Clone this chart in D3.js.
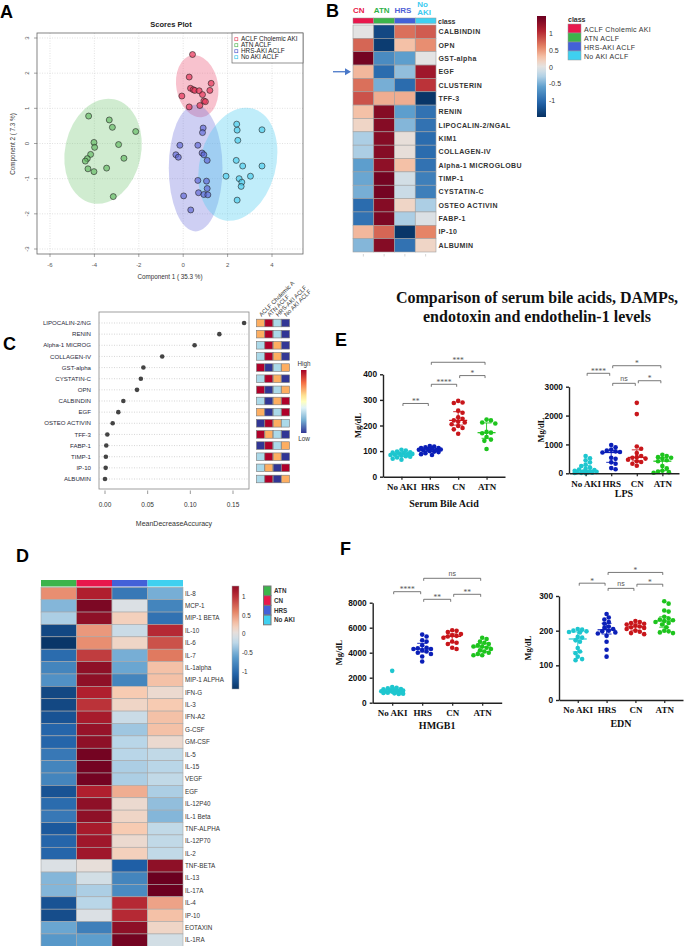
<!DOCTYPE html>
<html>
<head>
<meta charset="utf-8">
<script src="https://cdn.jsdelivr.net/npm/d3@7"></script>
<style>
body { margin: 0; background: #fff; }
svg { display: block; font-family: "Liberation Sans", Arial, sans-serif; }
</style>
</head>
<body>
<svg id="fig" width="685" height="946"></svg>
<script>
// ---------- data ----------
// A: PLS-DA scores (component 1, component 2)
const scoreGroups = ['ACLF Cholemic AKI', 'ATN ACLF', 'HRS-AKI ACLF', 'No AKI ACLF'];
const scoresCholemic = [[0.42,2.53],[0.27,1.89],[-0.06,1.35],[0.33,1.57],[0.45,1.53],[0.52,1.51],[0.72,1.50],[0.87,1.39],[1.20,1.51],[1.26,1.71],[0.93,1.21],[1.00,1.19],[0.75,1.08],[0.27,1.04]];
const scoresATN = [[-4.26,0.78],[-3.33,0.67],[-3.19,0.46],[-2.14,0.34],[-4.02,0.03],[-3.99,-0.11],[-2.91,-0.03],[-4.17,-0.31],[-4.32,-0.43],[-4.41,-0.50],[-2.67,-0.42],[-4.29,-0.72],[-4.02,-0.80],[-3.45,-0.70],[-3.15,-1.51]];
const scoresHRS = [[0.90,0.44],[0.87,0.31],[-0.15,-0.05],[0.66,-0.05],[-0.33,-0.32],[-0.22,-0.39],[0.85,-0.27],[0.93,-0.32],[1.08,-0.48],[0.66,-1.05],[1.05,-1.07],[1.08,-1.28],[0.69,-1.40],[0.93,-1.45],[1.11,-1.46],[0.02,-1.49],[0.34,-1.89]];
const scoresNoAKI = [[2.41,0.55],[2.43,0.38],[3.55,0.39],[2.46,0.09],[2.39,-0.48],[2.68,-0.64],[3.55,-0.64],[1.93,-0.93],[3.03,-0.93],[2.52,-1.00],[2.64,-1.10],[2.61,-1.22],[2.43,-1.61]];
// ellipses: centre x, centre y, half width, half height (data units), tilt in degrees
const ellipseCholemic = [0.63, 1.63, 0.94, 0.89, -10];
const ellipseATN = [-3.61, -0.22, 1.71, 1.51, 12];
const ellipseHRS = [0.56, -0.70, 1.21, 1.80, 0];
const ellipseNoAKI = [2.46, -0.59, 1.71, 1.64, 15];

// B: heatmap of urinary markers
const bCols = ['CN', 'ATN', 'HRS', 'No AKI'];
const bRows = ['CALBINDIN','OPN','GST-alpha','EGF','CLUSTERIN','TFF-3','RENIN','LIPOCALIN-2/NGAL','KIM1','COLLAGEN-IV','Alpha-1 MICROGLOBU','TIMP-1','CYSTATIN-C','OSTEO ACTIVIN','FABP-1','IP-10','ALBUMIN'];
const bValues = [
  [0.0,-1.3,0.7,0.8],[0.75,-1.4,0.3,0.55],[1.45,-0.75,-0.6,0.0],[0.35,-1.0,-0.4,1.2],
  [0.7,-0.5,-1.0,1.0],[0.85,0.4,0.4,-1.45],[0.3,1.35,-0.6,-0.95],[0.15,1.35,-0.45,-0.95],
  [-0.3,1.35,0.05,-1.0],[-0.3,1.35,0.05,-1.0],[-0.6,1.3,0.3,-0.95],[-0.55,1.45,-0.1,-0.85],
  [-0.5,1.45,-0.15,-0.85],[-1.0,1.35,0.15,-0.3],[-0.95,1.4,-0.3,-0.05],[0.35,0.75,-1.45,0.6],
  [-0.45,1.35,-0.95,0.15]
];
const bScaleTicks = [1, 0.5, 0, -0.5, -1];

// C: random forest importance
const cFeatures = ['LIPOCALIN-2/NG','RENIN','Alpha-1 MICROG','COLLAGEN-IV','GST-alpha','CYSTATIN-C','OPN','CALBINDIN','EGF','OSTEO ACTIVIN','TFF-3','FABP-1','TIMP-1','IP-10','ALBUMIN'];
const cAccuracy = [0.163,0.134,0.105,0.067,0.045,0.042,0.0375,0.0215,0.0156,0.009,0.0027,0.0015,0.001,0.0008,0.0];
const cClasses = ['ACLF Cholemic A', 'ATN ACLF', 'HRS-AKI ACLF', 'No AKI ACLF'];
// rank of group mean per feature: 4 = high ... 1 = low
const cRanks = [
  [3,4,2,1],[3,4,2,1],[2,4,3,1],[2,4,3,1],[4,1,2,3],[2,4,3,1],[4,1,2,3],[2,1,3,4],
  [3,1,2,4],[1,4,3,2],[4,3,2,1],[1,4,2,3],[2,4,3,1],[2,3,1,4],[2,4,1,3]
];
const cTicks = [0, 0.05, 0.10, 0.15];

// D: cytokine heatmap
const dCols = ['ATN', 'CN', 'HRS', 'No AKI'];
const dRows = ['IL-8','MCP-1','MIP-1 BETA','IL-10','IL-6','IL-7','IL-1alpha','MIP-1 ALPHA','IFN-G','IL-3','IFN-A2','G-CSF','GM-CSF','IL-5','IL-15','VEGF','EGF','IL-12P40','IL-1 Beta','TNF-ALPHA','IL-12P70','IL-2','TNF-BETA','IL-13','IL-17A','IL-4','IP-10','EOTAXIN','IL-1RA'];
const dValues = [
  [0.55,1.1,-0.9,-0.5],[-0.45,1.4,-0.05,-0.8],[-0.3,1.3,0.2,-0.95],[-1.3,0.5,-0.15,1.05],
  [-1.45,0.55,0.15,0.85],[-1.0,0.95,-0.5,0.65],[-0.8,1.3,-0.55,0.3],[-0.7,1.3,-0.8,0.3],
  [-1.3,1.1,0.25,0.1],[-1.3,1.0,0.15,0.25],[-1.2,1.15,-0.15,0.3],[-1.05,1.25,-0.35,0.3],
  [-1.05,1.3,-0.25,0.1],[-0.9,1.45,-0.25,-0.2],[-0.8,1.45,-0.3,-0.25],[-0.8,1.45,-0.3,-0.2],
  [-1.2,1.1,0.4,-0.3],[-1.0,1.3,0.1,-0.4],[-0.9,1.3,0.15,-0.45],[-1.15,1.15,0.25,-0.2],
  [-1.05,1.2,0.1,-0.2],[-1.05,1.2,0.2,-0.2],[-0.05,0.05,-1.1,1.3],[-0.45,-0.1,-0.8,1.5],
  [-0.45,-0.3,-0.75,1.55],[-1.2,-0.25,1.05,0.45],[-1.25,-0.05,1.05,0.3],[-0.55,-0.85,1.3,0.15],
  [-0.65,-0.6,1.45,-0.1]
];
const dScaleTicks = [1, 0.5, 0, -0.5, -1];

// E / F: group order No AKI, HRS, CN, ATN
const dotGroups = ['No AKI', 'HRS', 'CN', 'ATN'];
const bileAcid = [
  [105,102,98,95,92,90,88,86,85,82,80,78,75,70,66,94,89],
  [120,118,115,112,110,108,106,105,103,100,98,96,92,88,85,112,104],
  [296,290,288,258,250,232,226,220,215,212,205,198,190,185,168],
  [223,220,212,208,175,172,170,155,145,140,108]
];
const lps = [
  [600,520,450,380,300,250,200,160,130,110,90,70,60,50,40,30,20,15,10,5],
  [980,900,820,790,760,740,720,540,500,380,330,180,140],
  [2440,2050,930,850,700,600,560,540,510,470,420,390,330,260],
  [640,600,560,540,500,450,420,250,170,90,60,40,20]
];
const hmgb1 = [
  [2550,1250,1200,1150,1100,1080,1050,1000,980,950,920,900,880,850,820,800,780,750,720,700],
  [5450,5300,5000,4900,4600,4400,4350,4300,4300,4200,4100,4000,3900,3700,3300],
  [5800,5750,5650,5500,5400,5350,5300,5200,4900,4800,4700,4400,4300],
  [5200,5100,4900,4800,4700,4600,4500,4500,4400,4300,4200,4100,4000,3900,3800,3800]
];
const edn = [
  [205,203,200,198,196,195,182,180,172,168,150,140,135,125,118,115],
  [248,238,232,225,220,212,208,205,200,198,195,192,185,168,145,125],
  [228,225,222,220,218,215,212,210,208,205,200,197,193,190],
  [285,278,258,255,240,235,232,230,228,225,222,218,210,200,198,195,193]
];
// significance brackets: from, to, height (value units), label
const bileBrackets = [['No AKI','HRS',286,'**'],['HRS','CN',361,'****'],['CN','ATN',395,'*'],['HRS','ATN',447,'***']];
const lpsBrackets = [['No AKI','HRS',3464,'****'],['HRS','ATN',3727,'*'],['HRS','CN',3117,'ns'],['CN','ATN',3207,'*']];
const hmgbBrackets = [['HRS','ATN',9952,'ns'],['No AKI','HRS',8880,'****'],['HRS','CN',8272,'**'],['CN','ATN',8672,'**']];
const ednBrackets = [['No AKI','HRS',337,'*'],['HRS','ATN',368,'*'],['HRS','CN',322,'ns'],['CN','ATN',334,'*']];

// ---------- setup ----------
const SANS = '"Liberation Sans", Arial, sans-serif';
const SERIF = '"Liberation Serif", "Times New Roman", serif';
const svg = d3.select('#fig');
svg.append('rect').attr('width', 685).attr('height', 946).attr('fill', '#fff');
const defs = svg.append('defs');

const heatColor = d3.scaleLinear()
  .domain([-1.5, -1.1, -0.6, -0.25, 0, 0.25, 0.6, 1.1, 1.5])
  .range(['#06305f', '#1f5fa6', '#5d9ecd', '#b9d6e8', '#e3e3e3', '#f7cbb2', '#e58466', '#b01f2e', '#6b0020'])
  .clamp(true);

function letter(t, x, y) {
  svg.append('text').attr('x', x).attr('y', y).attr('font-size', 18)
    .attr('font-weight', 'bold').attr('font-family', SANS).attr('fill', '#000').text(t);
}

function vGradient(id, colorAt, lo, hi) {
  // vertical ramp, top = hi
  const grad = defs.append('linearGradient').attr('id', id)
    .attr('x1', 0).attr('y1', 0).attr('x2', 0).attr('y2', 1);
  d3.range(0, 1.0001, 0.05).forEach(t => {
    grad.append('stop').attr('offset', t).attr('stop-color', colorAt(hi - t * (hi - lo)));
  });
}

// ---------- A: scores plot ----------
function drawScores() {
  const g = svg.append('g');
  const box = { l: 37, r: 303, t: 33, b: 254 };
  const x = d3.scaleLinear().domain([-6, 4]).range([50, 272]);
  const y = d3.scaleLinear().domain([-3, 3]).range([249, 38]);
  const fills = ['rgba(232,62,96,0.75)', 'rgba(96,186,96,0.65)', 'rgba(92,100,214,0.65)', 'rgba(70,205,238,0.65)'];
  const shades = ['rgba(236,95,125,0.38)', 'rgba(110,195,110,0.32)', 'rgba(110,115,220,0.34)', 'rgba(80,205,240,0.36)'];
  const keyCols = ['#e8506a', '#5cb85c', '#5a62d0', '#45c8ec'];

  g.append('text').attr('x', 171).attr('y', 27).attr('text-anchor', 'middle')
    .attr('font-size', 7.5).attr('font-weight', 'bold').attr('fill', '#222').text('Scores Plot');

  // grid
  g.selectAll('.gx').data(x.ticks(5)).join('line')
    .attr('x1', d => x(d)).attr('x2', d => x(d)).attr('y1', box.t).attr('y2', box.b)
    .attr('stroke', '#cfcfcf').attr('stroke-width', 0.6).attr('stroke-dasharray', '1,1.5');
  g.selectAll('.gy').data(y.ticks(6)).join('line')
    .attr('y1', d => y(d)).attr('y2', d => y(d)).attr('x1', box.l).attr('x2', box.r)
    .attr('stroke', '#cfcfcf').attr('stroke-width', 0.6).attr('stroke-dasharray', '1,1.5');

  defs.append('clipPath').attr('id', 'clipA').append('rect')
    .attr('x', box.l).attr('y', box.t).attr('width', box.r - box.l).attr('height', box.b - box.t);
  const inner = g.append('g').attr('clip-path', 'url(#clipA)');
  const ellipses = [ellipseCholemic, ellipseATN, ellipseHRS, ellipseNoAKI];
  inner.selectAll('ellipse').data(ellipses).join('ellipse')
    .attr('transform', d => `translate(${x(d[0])},${y(d[1])}) rotate(${d[4]})`)
    .attr('rx', d => x(d[2]) - x(0)).attr('ry', d => y(0) - y(d[3]))
    .attr('fill', (d, i) => shades[i]);

  const sets = [scoresCholemic, scoresATN, scoresHRS, scoresNoAKI];
  sets.forEach((pts, i) => {
    inner.append('g').selectAll('circle').data(pts).join('circle')
      .attr('cx', d => x(d[0])).attr('cy', d => y(d[1])).attr('r', 3)
      .attr('fill', fills[i]).attr('stroke', '#222').attr('stroke-width', 0.6);
  });

  g.append('rect').attr('x', box.l).attr('y', box.t).attr('width', box.r - box.l).attr('height', box.b - box.t)
    .attr('fill', 'none').attr('stroke', '#666').attr('stroke-width', 0.8);

  // ticks
  g.selectAll('.tx').data(x.ticks(5)).join('line')
    .attr('x1', d => x(d)).attr('x2', d => x(d)).attr('y1', box.b).attr('y2', box.b + 3)
    .attr('stroke', '#666').attr('stroke-width', 0.6);
  g.selectAll('.lx').data(x.ticks(5)).join('text')
    .attr('x', d => x(d)).attr('y', 266.5).attr('text-anchor', 'middle')
    .attr('font-size', 6).attr('fill', '#555').text(d => d);
  g.selectAll('.ty').data(y.ticks(6)).join('line')
    .attr('y1', d => y(d)).attr('y2', d => y(d)).attr('x1', box.l - 3).attr('x2', box.l)
    .attr('stroke', '#666').attr('stroke-width', 0.6);
  g.selectAll('.ly').data(y.ticks(6)).join('text')
    .attr('transform', d => `translate(29,${y(d)}) rotate(-90)`).attr('text-anchor', 'middle')
    .attr('font-size', 6).attr('fill', '#555').text(d => d);

  g.append('text').attr('x', 170).attr('y', 278.5).attr('text-anchor', 'middle')
    .attr('font-size', 6.3).attr('fill', '#333').text('Component 1 ( 35.3 %)');
  g.append('text').attr('transform', 'translate(15,144) rotate(-90)').attr('text-anchor', 'middle')
    .attr('font-size', 6.3).attr('fill', '#333').text('Component 2 ( 7.3 %)');

  // legend
  const lg = g.append('g');
  lg.append('rect').attr('x', 232).attr('y', 33).attr('width', 71).attr('height', 30)
    .attr('fill', '#fff').attr('stroke', '#666').attr('stroke-width', 0.7);
  scoreGroups.forEach((s, i) => {
    const yy = 39.3 + i * 6;
    lg.append('rect').attr('x', 234.8).attr('y', yy - 1.6).attr('width', 3).attr('height', 3)
      .attr('fill', 'none').attr('stroke', keyCols[i]).attr('stroke-width', 0.7);
    lg.append('text').attr('x', 241).attr('y', yy + 2).attr('font-size', 6.4).attr('fill', '#222').text(s);
  });
}

// ---------- B: heatmap ----------
function drawHeatB() {
  const g = svg.append('g');
  const classCols = ['#e8174c', '#3cb44b', '#4361d8', '#3fd0f0'];
  const headCols = ['#e8194a', '#2fb24a', '#4f5fd6', '#3ccbf0'];
  const x = d3.scaleBand().domain(bCols).range([353, 436]);
  const y = d3.scaleBand().domain(bRows).range([25, 252]);

  bCols.forEach((c, i) => {
    if (c === 'No AKI') {
      g.append('text').attr('x', x(c) + 2).attr('y', 6.5).attr('font-size', 8).attr('font-weight', 'bold')
        .attr('fill', headCols[i]).text('No');
      g.append('text').attr('x', x(c) + 2).attr('y', 15).attr('font-size', 8).attr('font-weight', 'bold')
        .attr('fill', headCols[i]).text('AKI');
    } else {
      g.append('text').attr('x', x(c)).attr('y', 12.5).attr('font-size', 8).attr('font-weight', 'bold')
        .attr('fill', headCols[i]).text(c);
    }
  });

  g.selectAll('.cls').data(bCols).join('rect')
    .attr('x', d => x(d)).attr('y', 18).attr('width', x.bandwidth()).attr('height', 5.5)
    .attr('fill', (d, i) => classCols[i]).attr('stroke', '#999').attr('stroke-width', 0.5);
  g.append('text').attr('x', 438).attr('y', 23.5).attr('font-size', 7).attr('font-weight', 'bold')
    .attr('fill', '#333').text('class');

  const cells = bRows.flatMap((r, i) => bCols.map((c, j) => ({ r, c, v: bValues[i][j] })));
  g.selectAll('.cell').data(cells).join('rect')
    .attr('x', d => x(d.c)).attr('y', d => y(d.r)).attr('width', x.bandwidth()).attr('height', y.bandwidth())
    .attr('fill', d => heatColor(d.v)).attr('stroke', '#a0a0a0').attr('stroke-width', 0.6);

  g.selectAll('.rl').data(bRows).join('text')
    .attr('x', 438.5).attr('y', d => y(d) + y.bandwidth() / 2 + 2.5)
    .attr('font-size', 7).attr('font-weight', 'bold').attr('letter-spacing', 0.4)
    .attr('fill', '#333').text(d => d);

  // small ticks under columns
  g.selectAll('.bt').data(bCols).join('line')
    .attr('x1', d => x(d) + x.bandwidth() / 2).attr('x2', d => x(d) + x.bandwidth() / 2)
    .attr('y1', 254).attr('y2', 256.5).attr('stroke', '#bbb').attr('stroke-width', 0.6);

  // arrow at EGF
  const ay = y('EGF') + y.bandwidth() / 2;
  g.append('line').attr('x1', 333).attr('x2', 347).attr('y1', ay).attr('y2', ay)
    .attr('stroke', '#4a78c8').attr('stroke-width', 1.3);
  g.append('path').attr('d', `M351,${ay} L345,${ay - 3.5} L345,${ay + 3.5} Z`).attr('fill', '#4a78c8');

  // colour bar
  const s = d3.scaleLinear().domain([-1.49, 1.52]).range([117, 16]);
  vGradient('gradB', heatColor, -1.49, 1.52);
  g.append('rect').attr('x', 537).attr('y', 16).attr('width', 9).attr('height', 101).attr('fill', 'url(#gradB)');
  g.selectAll('.st').data(bScaleTicks).join('text')
    .attr('x', 549).attr('y', d => s(d) + 2.5).attr('font-size', 7).attr('fill', '#333').text(d => d);

  // class legend
  g.append('text').attr('x', 568).attr('y', 21.5).attr('font-size', 7).attr('font-weight', 'bold')
    .attr('fill', '#333').text('class');
  scoreGroups.forEach((c, i) => {
    g.append('rect').attr('x', 568).attr('y', 24 + i * 9).attr('width', 13).attr('height', 9)
      .attr('fill', classCols[i]).attr('stroke', '#999').attr('stroke-width', 0.5);
    g.append('text').attr('x', 584).attr('y', 31.5 + i * 9).attr('font-size', 7).attr('letter-spacing', 0.3)
      .attr('fill', '#333').text(c);
  });
}

// ---------- C: importance plot ----------
function drawImportance() {
  const g = svg.append('g');
  const box = { l: 99, r: 249, t: 312, b: 489 };
  const x = d3.scaleLinear().domain([0, 0.15]).range([105, 233]);
  const y = d3.scalePoint().domain(cFeatures).range([323, 479]);
  const rankCol = { 4: '#b0002a', 3: '#fdae61', 2: '#abd9e9', 1: '#313695' };

  g.append('rect').attr('x', box.l).attr('y', box.t).attr('width', box.r - box.l).attr('height', box.b - box.t)
    .attr('fill', 'none').attr('stroke', '#888').attr('stroke-width', 0.8);
  g.selectAll('.gl').data(cFeatures).join('line')
    .attr('x1', box.l).attr('x2', box.r).attr('y1', d => y(d)).attr('y2', d => y(d))
    .attr('stroke', '#bbb').attr('stroke-width', 0.6).attr('stroke-dasharray', '1,1.5');
  g.selectAll('.dot').data(cFeatures).join('circle')
    .attr('cx', (d, i) => x(cAccuracy[i])).attr('cy', d => y(d)).attr('r', 2.3).attr('fill', '#444');
  g.selectAll('.lab').data(cFeatures).join('text')
    .attr('x', 91).attr('y', d => y(d) + 2.2).attr('text-anchor', 'end')
    .attr('font-size', 6.1).attr('fill', '#2a2a3a').text(d => d);

  g.selectAll('.tk').data(cTicks).join('line')
    .attr('x1', d => x(d)).attr('x2', d => x(d)).attr('y1', box.b + 1.5).attr('y2', box.b + 5)
    .attr('stroke', '#555').attr('stroke-width', 0.6);
  g.selectAll('.tl').data(cTicks).join('text')
    .attr('x', d => x(d)).attr('y', 507).attr('text-anchor', 'middle')
    .attr('font-size', 6.5).attr('fill', '#333').text(d3.format('.2f'));
  g.append('text').attr('x', 174).attr('y', 526).attr('text-anchor', 'middle')
    .attr('font-size', 7).attr('fill', '#333').text('MeanDecreaseAccuracy');

  // rank squares
  const cx = d3.scaleBand().domain(cClasses).range([256.5, 289.5]).paddingInner(0.05);
  const sq = cFeatures.flatMap((f, i) => cClasses.map((c, j) => ({ f, c, r: cRanks[i][j] })));
  g.selectAll('.sq').data(sq).join('rect')
    .attr('x', d => cx(d.c)).attr('y', d => y(d.f) - 3.8).attr('width', cx.bandwidth()).attr('height', 7.6)
    .attr('fill', d => rankCol[d.r]).attr('stroke', '#777').attr('stroke-width', 0.6);
  g.selectAll('.cl').data(cClasses).join('text')
    .attr('transform', d => `translate(${cx(d) + cx.bandwidth() / 2 + 1},${317}) rotate(-45)`)
    .attr('font-size', 6).attr('fill', '#333').text(d => d);

  // High / Low bar
  const ryb = d3.scaleLinear().domain([0, 0.2, 0.4, 0.5, 0.6, 0.8, 1])
    .range(['#313695', '#74add1', '#e0f3f8', '#ffffbf', '#fee090', '#f46d43', '#a50026']);
  vGradient('gradC', ryb, 0, 1);
  g.append('rect').attr('x', 301).attr('y', 370).attr('width', 5.5).attr('height', 63).attr('fill', 'url(#gradC)');
  g.append('text').attr('x', 304).attr('y', 366).attr('text-anchor', 'middle').attr('font-size', 6.3).attr('fill', '#333').text('High');
  g.append('text').attr('x', 304).attr('y', 441).attr('text-anchor', 'middle').attr('font-size', 6.3).attr('fill', '#333').text('Low');
}

// ---------- D: cytokine heatmap ----------
function drawHeatD() {
  const g = svg.append('g');
  const classCols = ['#3cb44b', '#e8174c', '#4361d8', '#3fd0f0'];
  const x = d3.scaleBand().domain(dCols).range([41, 183]);
  const y = d3.scaleBand().domain(dRows).range([587.3, 587.3 + 12.38 * dRows.length]);

  g.selectAll('.cls').data(dCols).join('rect')
    .attr('x', d => x(d)).attr('y', 580).attr('width', x.bandwidth()).attr('height', 6.5)
    .attr('fill', (d, i) => classCols[i]);
  const cells = dRows.flatMap((r, i) => dCols.map((c, j) => ({ r, c, v: dValues[i][j] })));
  g.selectAll('.cell').data(cells).join('rect')
    .attr('x', d => x(d.c)).attr('y', d => y(d.r)).attr('width', x.bandwidth()).attr('height', y.bandwidth())
    .attr('fill', d => heatColor(d.v)).attr('stroke', '#a8a8a8').attr('stroke-width', 0.6);
  g.selectAll('.rl').data(dRows).join('text')
    .attr('x', 185).attr('y', d => y(d) + y.bandwidth() / 2 + 2.2)
    .attr('font-size', 6.3).attr('fill', '#333').text(d => d);

  const s = d3.scaleLinear().domain([-1.47, 1.29]).range([689, 586]);
  vGradient('gradD', heatColor, -1.47, 1.29);
  g.append('rect').attr('x', 232).attr('y', 586).attr('width', 7).attr('height', 103)
    .attr('fill', 'url(#gradD)').attr('stroke', '#aaa').attr('stroke-width', 0.5);
  g.selectAll('.st').data(dScaleTicks).join('text')
    .attr('x', 242).attr('y', d => s(d) + 2.2).attr('font-size', 6.3).attr('fill', '#333').text(d => d);

  dCols.forEach((c, i) => {
    g.append('rect').attr('x', 263.5).attr('y', 586 + i * 9.7).attr('width', 7.5).attr('height', 9.7)
      .attr('fill', classCols[i]).attr('stroke', '#777').attr('stroke-width', 1);
    g.append('text').attr('x', 274).attr('y', 593.3 + i * 9.7).attr('font-size', 6.3)
      .attr('font-weight', 'bold').attr('fill', '#333').text(c);
  });
}

// ---------- E / F: dot plots ----------
const dotColors = ['#1ec6cf', '#0b1fb8', '#c8161b', '#1ec41e'];

function swarm(vals, y, r) {
  const placed = [];
  const out = new Array(vals.length);
  vals.map((v, i) => ({ v, i })).sort((a, b) => b.v - a.v).forEach(p => {
    const py = y(p.v);
    let best = 0, bestDist = -1;
    for (let k = 0; k <= 5 && bestDist < Infinity; k++) {
      for (const s of (k ? [1, -1] : [1])) {
        const dx = s * k * r * 0.95;
        const near = placed.length ? d3.min(placed, q => Math.hypot(q[0] - dx, q[1] - py)) : Infinity;
        if (near >= 1.75 * r) { best = dx; bestDist = Infinity; break; }
        if (near > bestDist) { bestDist = near; best = dx; }
      }
    }
    placed.push([best, py]);
    out[p.i] = { v: p.v, dx: best };
  });
  return out;
}

function drawDots(cfg) {
  const g = svg.append('g');
  const x = d3.scalePoint().domain(dotGroups).range(cfg.xr).padding(0.65);
  const y = d3.scaleLinear().domain(cfg.domain).range(cfg.yr);
  const r = 2.3;

  // points
  cfg.data.forEach((vals, i) => {
    const cx = x(dotGroups[i]);
    g.append('g').selectAll('circle').data(swarm(vals, y, r)).join('circle')
      .attr('cx', d => cx + d.dx).attr('cy', d => y(d.v)).attr('r', r).attr('fill', dotColors[i]);
    const sorted = vals.slice().sort(d3.ascending);
    const med = d3.quantile(sorted, 0.5), q1 = d3.quantile(sorted, 0.25), q3 = d3.quantile(sorted, 0.75);
    const lg = g.append('g').attr('stroke', dotColors[i]).attr('stroke-width', 0.9);
    lg.append('line').attr('x1', cx - 9).attr('x2', cx + 9).attr('y1', y(med)).attr('y2', y(med)).attr('stroke-width', 1.2);
    lg.append('line').attr('x1', cx).attr('x2', cx).attr('y1', y(q1)).attr('y2', y(q3));
    [q1, q3].forEach(q => lg.append('line').attr('x1', cx - 5).attr('x2', cx + 5).attr('y1', y(q)).attr('y2', y(q)));
  });

  // axes
  const ya = g.append('g').attr('transform', `translate(${cfg.xr[0]},0)`)
    .call(d3.axisLeft(y).tickValues(cfg.ticks).tickSize(3).tickSizeOuter(0).tickFormat(d3.format('d')));
  ya.select('.domain').attr('stroke', '#222').attr('stroke-width', 1.4);
  ya.selectAll('.tick line').attr('stroke', '#222').attr('stroke-width', 1.4);
  ya.selectAll('text').attr('font-family', SANS).attr('font-weight', 'bold').attr('font-size', 8.3).attr('fill', '#111');

  const xa = g.append('g').attr('transform', `translate(0,${cfg.yr[0]})`)
    .call(d3.axisBottom(x).tickSize(3).tickSizeOuter(0).tickPadding(4));
  xa.select('.domain').attr('stroke', '#222').attr('stroke-width', 1.4);
  xa.selectAll('.tick line').attr('stroke', '#222').attr('stroke-width', 1.2);
  xa.selectAll('text').attr('font-family', SERIF).attr('font-weight', 'bold').attr('font-size', 9).attr('fill', '#111');

  g.append('text').attr('x', (cfg.xr[0] + cfg.xr[1]) / 2).attr('y', cfg.yr[0] + cfg.titleDy)
    .attr('text-anchor', 'middle').attr('font-family', SERIF).attr('font-weight', 'bold').attr('font-size', 10)
    .attr('fill', '#111').text(cfg.title);
  g.append('text').attr('transform', `translate(${cfg.ylabX},${(cfg.yr[0] + cfg.yr[1]) / 2}) rotate(-90)`)
    .attr('text-anchor', 'middle').attr('font-family', SERIF).attr('font-weight', 'bold').attr('font-size', 8.5)
    .attr('fill', '#111').text('Mg/dL');

  // brackets
  const bg = g.append('g');
  cfg.brackets.forEach(([a, b, h, lab]) => {
    const x1 = x(a) + 1.5, x2 = x(b) - 1.5, yy = y(h);
    bg.append('path').attr('d', `M${x1},${yy + 2.5} V${yy} H${x2} V${yy + 2.5}`)
      .attr('fill', 'none').attr('stroke', '#555').attr('stroke-width', 0.8);
    bg.append('text').attr('x', (x1 + x2) / 2).attr('y', lab === 'ns' ? yy - 2 : yy + 0.5)
      .attr('text-anchor', 'middle').attr('font-family', lab === 'ns' ? SANS : SERIF)
      .attr('font-size', lab === 'ns' ? 7 : 7.5).attr('fill', '#555').text(lab);
  });
}

// ---------- draw ----------
letter('A', 0, 18);
letter('B', 326, 17);
letter('C', 3, 350);
letter('D', 16, 562);
letter('E', 335, 346);
letter('F', 340, 555);

drawScores();
drawHeatB();
drawImportance();
drawHeatD();

const title = svg.append('text').attr('text-anchor', 'middle').attr('font-family', SERIF)
  .attr('font-weight', 'bold').attr('font-size', 16).attr('fill', '#111');
title.append('tspan').attr('x', 537).attr('y', 303).text('Comparison of serum bile acids, DAMPs,');
title.append('tspan').attr('x', 537).attr('y', 322).text('endotoxin and endothelin-1 levels');

drawDots({ data: bileAcid, brackets: bileBrackets, domain: [0, 400], ticks: [0, 100, 200, 300, 400],
  xr: [383, 505], yr: [476.7, 374.3], title: 'Serum Bile Acid', titleDy: 30, ylabX: 361 });
drawDots({ data: lps, brackets: lpsBrackets, domain: [0, 3000], ticks: [0, 1000, 2000, 3000],
  xr: [569, 679], yr: [473.3, 386.7], title: 'LPS', titleDy: 24, ylabX: 544 });
drawDots({ data: hmgb1, brackets: hmgbBrackets, domain: [0, 8000], ticks: [0, 2000, 4000, 6000, 8000],
  xr: [372.7, 501.7], yr: [702.7, 602.7], title: 'HMGB1', titleDy: 26, ylabX: 342 });
drawDots({ data: edn, brackets: ednBrackets, domain: [0, 300], ticks: [0, 100, 200, 300],
  xr: [559, 683], yr: [700, 596], title: 'EDN', titleDy: 27, ylabX: 531 });
</script>
</body>
</html>
